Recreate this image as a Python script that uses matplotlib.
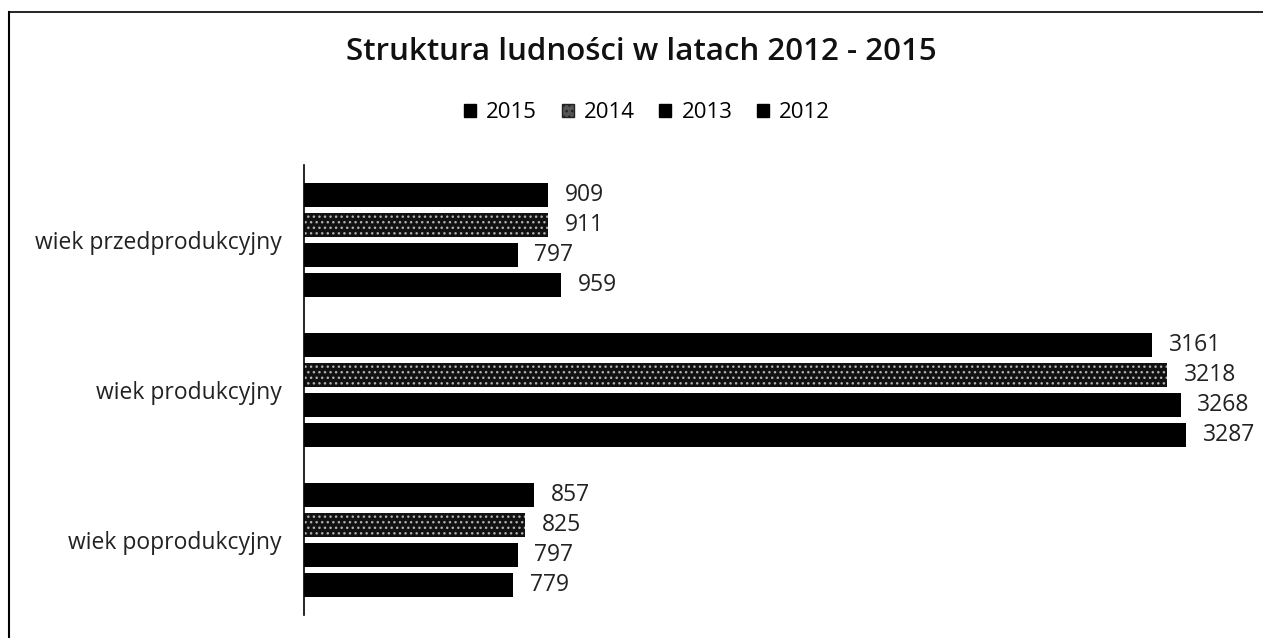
import matplotlib
matplotlib.use("Agg")
import matplotlib.pyplot as plt
from matplotlib.lines import Line2D
from matplotlib.patches import Patch
import numpy as np

categories = ["wiek przedprodukcyjny", "wiek produkcyjny", "wiek poprodukcyjny"]
series_names = ["2015", "2014", "2013", "2012"]
v2015 = [909, 3161, 857]
v2014 = [911, 3218, 825]
v2013 = [797, 3268, 797]
v2012 = [959, 3287, 779]
series_values = [v2015, v2014, v2013, v2012]

plt.rcParams['font.family'] = ['Open Sans', 'DejaVu Sans']

W, H = 1263, 638
fig = plt.figure(figsize=(W / 100, H / 100), dpi=100)
ax = fig.add_axes([304 / W, 1 - 615 / H, (1243 - 304) / W, (615 - 165) / H])

y = np.arange(len(categories))
offsets = [-0.3, -0.1, 0.1, 0.3]
bh = 0.155
for j, (name, vals) in enumerate(zip(series_names, series_values)):
    if name == "2014":
        bars = ax.barh(y + offsets[j], vals, height=bh, color="#111111",
                       edgecolor="#b0b0b0", hatch="...", linewidth=0)
    else:
        bars = ax.barh(y + offsets[j], vals, height=bh, color="black", linewidth=0)
    for b, v in zip(bars, vals):
        ax.annotate(str(v), (b.get_width(), b.get_y() + b.get_height() / 2),
                    xytext=(12, 0), textcoords="offset points",
                    va="center", ha="left", fontsize=16.5, color="#222222",
                    annotation_clip=False)

ax.set_xlim(0, 3500)
ax.set_ylim(2.5, -0.5)
ax.set_yticks(y)
ax.set_yticklabels(categories, fontsize=16.5, color="#222222")
ax.tick_params(axis="y", length=0, pad=16)
ax.set_xticks([])
for s in ["top", "right", "bottom"]:
    ax.spines[s].set_visible(False)
ax.spines["left"].set_linewidth(1.2)
ax.spines["left"].set_color("black")

fig.text(641 / W, 1 - 52 / H, "Struktura ludności w latach 2012 - 2015",
         ha="center", va="center", fontsize=22.5, fontweight="semibold", color="#111111")

handles = []
for name in series_names:
    if name == "2014":
        handles.append(Patch(facecolor="#555555", edgecolor="#222222", hatch="...", label=name))
    else:
        handles.append(Patch(facecolor="black", edgecolor="black", label=name))
fig.legend(handles=handles, loc="center", bbox_to_anchor=(647 / W, 1 - 113 / H),
           ncol=4, frameon=False, fontsize=16, handlelength=0.55, handleheight=0.55,
           handletextpad=0.45, columnspacing=1.1)

# chart border (left and top edges visible)
fig.add_artist(Line2D([9 / W, 9 / W], [0, 1 - 12 / H], transform=fig.transFigure, color="black", lw=1.5))
fig.add_artist(Line2D([9 / W, 1], [1 - 12 / H, 1 - 12 / H], transform=fig.transFigure, color="black", lw=1.2))

fig.savefig("out.png", dpi=100)
